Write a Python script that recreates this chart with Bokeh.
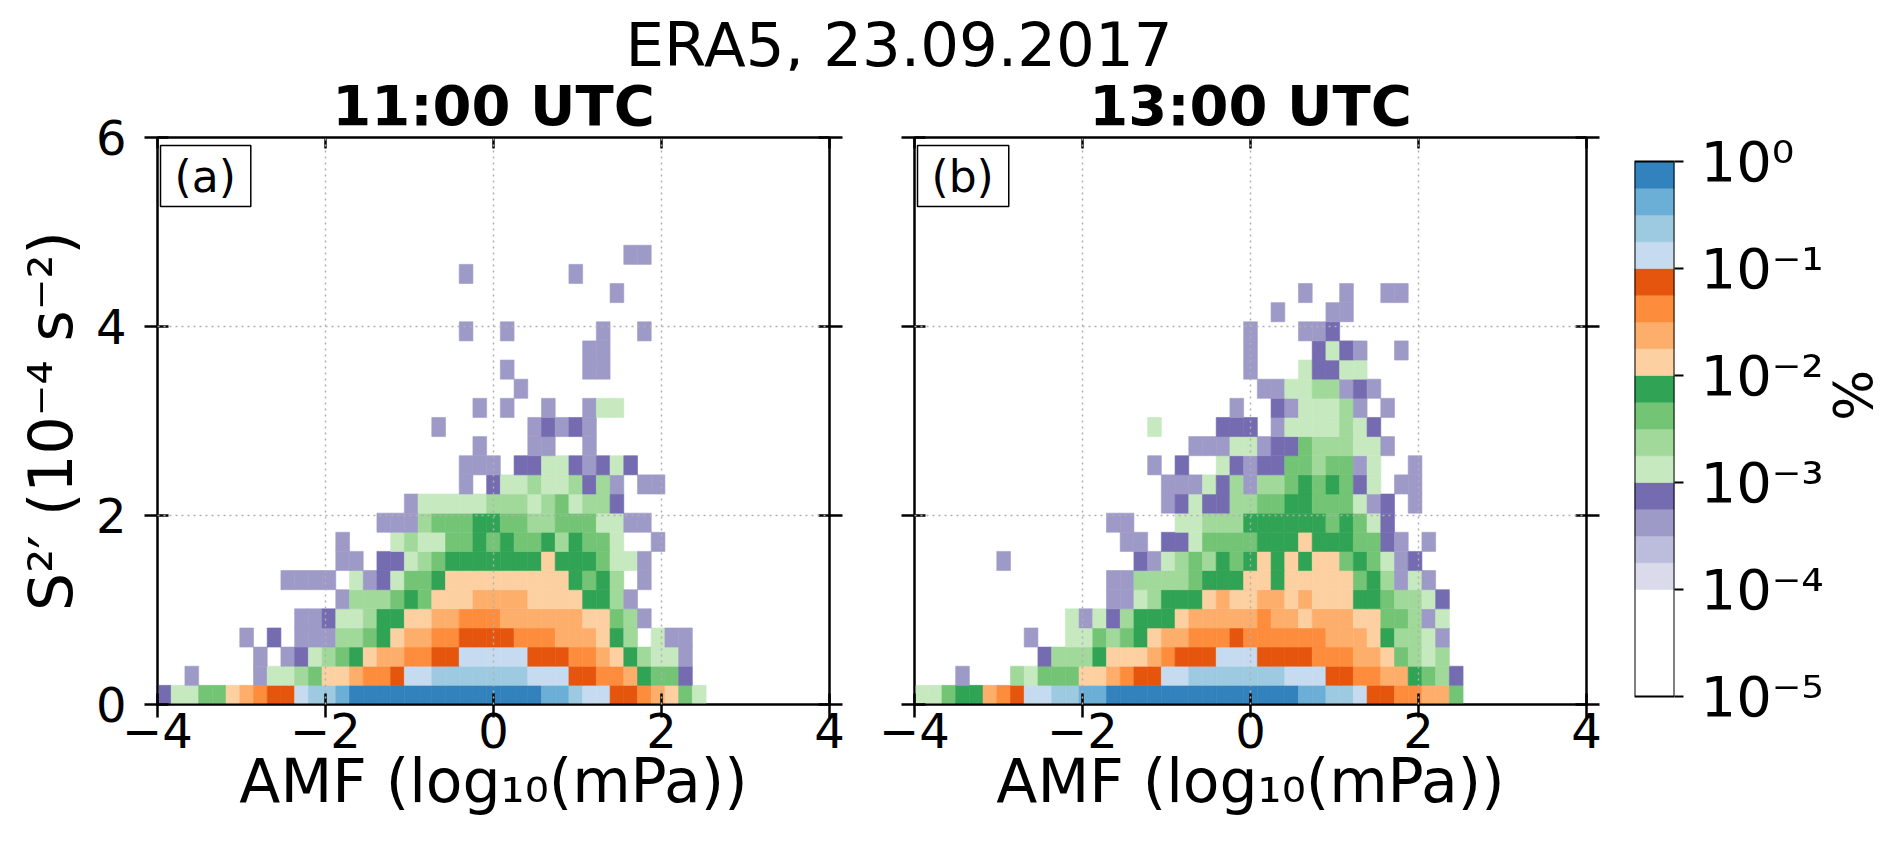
import numpy as np
from bokeh.plotting import figure
from bokeh.models import (LinearColorMapper, FixedTicker, LinearAxis, Label, Div,
                          Range1d, CustomJSTickFormatter, ColumnDataSource)
from bokeh.layouts import row, column
from bokeh.transform import transform
from bokeh.embed import file_html
from bokeh.resources import INLINE

FONT = "DejaVu Sans"

# ---------------- data ----------------
# 2-D histogram: 49 AMF bins from -4 to 4, S2' bins of 0.2025 starting at 0.
X_EDGES = np.linspace(-4.0, 4.0, 50)
Y_STEP = 0.2025

# one string per S2' row (bottom row first), one character per AMF bin:
# '.' = empty, hex digit L = class with log10(%) = -4 + (L + 0.5) / 4
PANEL_A_ROWS = [
    "3446689abbcdde" "ffffffffffffff" "eedccbba9864",
    "..2....2445688" "9aabccddddddd" "cccbbaa97663.",
    ".......2.23456" "7899aabbccccc" "bbbaa9875442.",
    "......2.3.2225" "567899aabbbba" "aa999875.422.",
    "..........2234" "45778899aaa99" "999988652....",
    ".............2" "5556768889999" "88887752.....",
    ".........2222." "4234667888888" "8887675.2....",
    ".............2" "2.33456777777" "787776442....",
    ".............2" "...4544667676" "6757664..2...",
    ".............." "..22256667766" "556664422....",
    ".............." "....244444555" "4564553......",
    ".............." "........2.344" "5445352.22...",
    ".............." "........222.3" "34432343.....",
    ".............." ".........2..." "22..2........",
    ".............." "......2......" "23232........",
    ".............." ".........2.2." ".2..244......",
    ".............." "............2" ".............",
    ".............." "...........2." "....22.......",
    ".............." "............." "....22.......",
    ".............." "........2..2." ".....2..2....",
    ".............." "............." ".............",
    ".............." "............." "......2......",
    ".............." "........2...." "...2.........",
    ".............." "............." ".......22....",
]

PANEL_B_ROWS = [
    "446779abccddee" "ffffffffffffff" "eeddcbbaa996",
    "...2...5466688" "9abbccddddddd" "cccbbaa997653",
    ".........35557" "8889abbbcccbb" "bbaaa9986545.",
    "........2..446" "567899aaabaaa" "aaa999875542.",
    "...........424" "35777899999a9" "989998866524.",
    ".............." "2245777898899" "898887765543.",
    ".............." "2255556777887" "88888675242..",
    "......2......." "..32456576787" "8788676423...",
    ".............." ".22.334666677" "787776632.2..",
    ".............." "22...44555777" "77767643.....",
    ".............." "....234335566" "77666423.2...",
    ".............." "....222435255" "6767634.22...",
    ".............." "...2.3..43233" "6656624..2...",
    ".............." "......2224423" "36555442.....",
    ".............." "...4....333.2" "4444543......",
    ".............." ".........2..3" "244452.2.....",
    ".............." "...........22" "4455232......",
    ".............." "..........2.." ".43344.......",
    ".............." "..........2.." "..3432..2....",
    ".............." "..........2.." ".223.........",
    ".............." "............2" "...22........",
    ".............." "............." ".2..2..22....",
]

PALETTE = (["#ffffff"] * 4 +
           ["#dadaeb", "#bcbddc", "#9e9ac8", "#756bb1",
            "#c7e9c0", "#a1d99b", "#74c476", "#31a354",
            "#fdd0a2", "#fdae6b", "#fd8d3c", "#e6550d",
            "#c6dbef", "#9ecae1", "#6baed6", "#3182bd"])

X_TICKS = [-4, -2, 0, 2, 4]
X_TICK_LABELS = ["−4", "−2", "0", "2", "4"]
Y_TICKS = [0, 2, 4, 6]
CBAR_TICKS = [-5, -4, -3, -2, -1, 0]
CBAR_LABELS = ["10⁻⁵", "10⁻⁴", "10⁻³", "10⁻²", "10⁻¹", "10⁰"]
CBAR_CLASS_EDGES = np.linspace(-5.0, 0.0, 21)

TITLE = "ERA5, 23.09.2017"
SUBTITLES = ["11:00 UTC", "13:00 UTC"]
LETTERS = ["(a)", "(b)"]
X_LABEL = "AMF (log₁₀(mPa))"
Y_LABEL = "S²′ (10⁻⁴ s⁻²)"
CBAR_LABEL = "%"

mapper = LinearColorMapper(palette=PALETTE, low=-5, high=0)

TOP_B = 66
BOT_B = 160
FRAME_H = 567


def cells(rows):
    d = dict(left=[], right=[], bottom=[], top=[], v=[])
    for j, r in enumerate(rows):
        for i, ch in enumerate(r):
            if ch == ".":
                continue
            lvl = int(ch, 16)
            d["left"].append(X_EDGES[i])
            d["right"].append(X_EDGES[i + 1])
            d["bottom"].append(j * Y_STEP)
            d["top"].append((j + 1) * Y_STEP)
            d["v"].append(-4 + (lvl + 0.5) / 4)
    return ColumnDataSource(d)


def style_axis(ax, ticks, labels):
    ax.ticker = FixedTicker(ticks=ticks)
    ax.major_tick_in = 11
    ax.major_tick_out = 13
    ax.major_tick_line_width = 2.5
    ax.major_tick_line_color = "black"
    ax.minor_tick_line_color = None
    ax.axis_line_width = 2
    ax.axis_line_color = "black"
    if labels:
        ax.major_label_text_font = FONT
        ax.major_label_text_font_size = "48px"
        ax.major_label_text_color = "black"
    else:
        ax.formatter = CustomJSTickFormatter(code="return ''")
        ax.major_label_text_font_size = "0px"
        ax.major_label_standoff = 0


def make_panel(rows, subtitle, letter, first):
    p = figure(frame_width=672, frame_height=FRAME_H,
               x_range=Range1d(-4, 4), y_range=Range1d(0, 6),
               output_backend="svg", toolbar_location=None,
               min_border_left=157 if first else 59, min_border_right=26,
               min_border_top=TOP_B, min_border_bottom=BOT_B,
               background_fill_color="white", border_fill_color="white")
    src = cells(rows)
    p.quad(left="left", right="right", bottom="bottom", top="top", source=src,
           fill_color=transform("v", mapper), line_color=transform("v", mapper),
           line_width=0.6)

    p.outline_line_color = "black"
    p.outline_line_width = 2

    p.title.text = subtitle
    p.title.align = "center"
    p.title.text_font = FONT
    p.title.text_font_size = "56px"
    p.title.text_font_style = "bold"
    p.title.text_color = "black"
    p.title.standoff = 0

    xa = p.xaxis[0]
    style_axis(xa, X_TICKS, True)
    xa.major_label_overrides = dict(zip(X_TICKS, X_TICK_LABELS))
    xa.major_label_standoff = -5
    xa.axis_label = X_LABEL
    xa.axis_label_text_font = FONT
    xa.axis_label_text_font_size = "60px"
    xa.axis_label_text_font_style = "normal"
    xa.axis_label_text_color = "black"
    xa.axis_label_standoff = -5

    ya = p.yaxis[0]
    style_axis(ya, Y_TICKS, first)
    if first:
        ya.major_label_standoff = 18
        ya.axis_label = Y_LABEL
        ya.axis_label_text_font = FONT
        ya.axis_label_text_font_size = "60px"
        ya.axis_label_text_font_style = "normal"
        ya.axis_label_text_color = "black"
        ya.axis_label_standoff = 7

    top_ax = LinearAxis()
    style_axis(top_ax, X_TICKS, False)
    top_ax.major_tick_out = 0
    p.add_layout(top_ax, "above")
    right_ax = LinearAxis()
    style_axis(right_ax, Y_TICKS, False)
    p.add_layout(right_ax, "right")

    for g, t in ((p.xgrid[0], X_TICKS), (p.ygrid[0], Y_TICKS)):
        g.ticker = FixedTicker(ticks=t)
        g.grid_line_color = "#b0b0b0"
        g.grid_line_dash = "2 4"
        g.grid_line_width = 1.5
        g.level = "overlay"

    p.add_layout(Label(x=-4, y=6, x_offset=3, y_offset=-8, text=letter,
                       text_align="left", text_baseline="top", text_font=FONT,
                       text_font_size="44px", text_color="black",
                       background_fill_color="white", border_line_color="black",
                       border_line_width=1.5,
                       padding=dict(left=14, right=15, top=5, bottom=5)))
    return p


p1 = make_panel(PANEL_A_ROWS, SUBTITLES[0], LETTERS[0], True)
p2 = make_panel(PANEL_B_ROWS, SUBTITLES[1], LETTERS[1], False)

# colour bar drawn as its own small plot (log10 % on the vertical axis)
c = figure(frame_width=40, frame_height=FRAME_H,
           x_range=Range1d(0, 1), y_range=Range1d(-5.075, 0.224),
           output_backend="svg", toolbar_location=None,
           min_border_left=22, min_border_right=216,
           min_border_top=TOP_B, min_border_bottom=BOT_B,
           x_axis_location=None, y_axis_location="right", outline_line_color=None)
c.grid.visible = False
cb_src = ColumnDataSource(dict(
    bottom=CBAR_CLASS_EDGES[:-1], top=CBAR_CLASS_EDGES[1:],
    v=(CBAR_CLASS_EDGES[:-1] + CBAR_CLASS_EDGES[1:]) / 2))
c.quad(left=0, right=1, bottom="bottom", top="top", source=cb_src,
       fill_color=transform("v", mapper), line_color=transform("v", mapper),
       line_width=0.6)
c.quad(left=[0], right=[1], bottom=[CBAR_TICKS[0]], top=[CBAR_TICKS[-1]],
       fill_color=None, line_color="black", line_width=2)
cax = c.yaxis[0]
cax.ticker = FixedTicker(ticks=CBAR_TICKS)
cax.major_label_overrides = dict(zip(CBAR_TICKS, CBAR_LABELS))
cax.axis_line_color = None
cax.major_tick_in = 0
cax.major_tick_out = 9
cax.major_tick_line_width = 2
cax.major_tick_line_color = "black"
cax.minor_tick_line_color = None
cax.major_label_standoff = 17
cax.major_label_text_font = FONT
cax.major_label_text_font_size = "56px"
cax.major_label_text_color = "black"
cax.axis_label = CBAR_LABEL
cax.axis_label_text_font = FONT
cax.axis_label_text_font_size = "54px"
cax.axis_label_text_font_style = "normal"
cax.axis_label_text_color = "black"
cax.axis_label_standoff = 27
try:
    cax.axis_label_orientation = float(np.pi / 2)
except Exception:
    pass

title_div = Div(
    text=('<div style="font-family:\'DejaVu Sans\';font-size:61px;line-height:50px;'
          'padding-top:20px;width:1798px;text-align:center;color:black;'
          'white-space:nowrap;">' + TITLE + '</div>'),
    width=1888, height=136 - TOP_B, margin=0)

layout = column(title_div, row(p1, p2, c))
open("out.html", "w").write(file_html(layout, INLINE))
